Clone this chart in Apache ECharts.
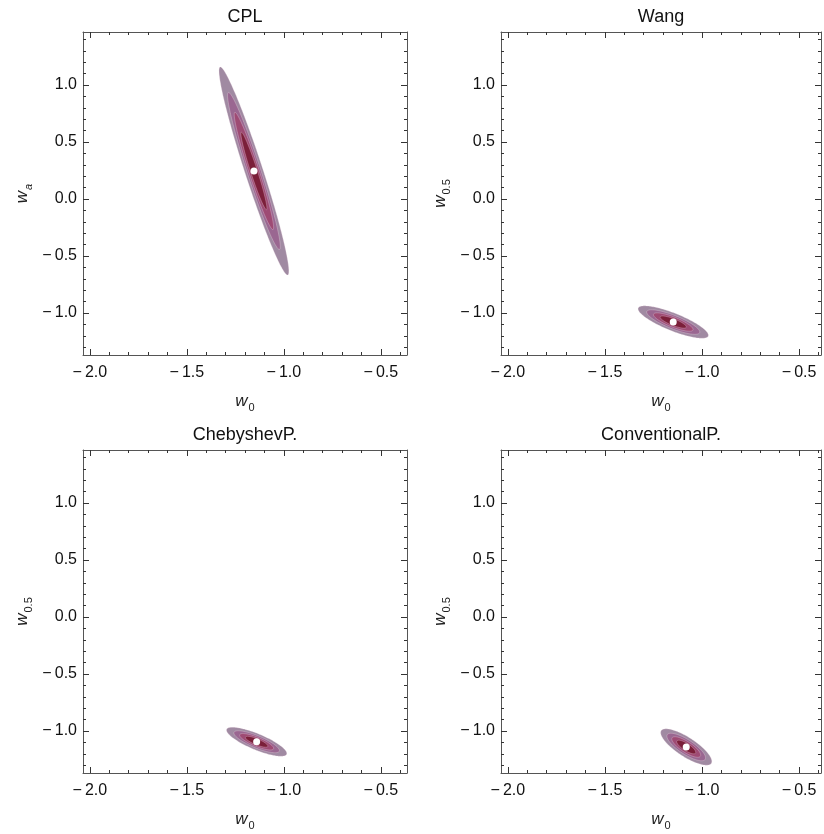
<!DOCTYPE html>
<html><head><meta charset="utf-8">
<script src="https://cdn.jsdelivr.net/npm/echarts@6/dist/echarts.min.js"></script>
<style>html,body{margin:0;padding:0;background:#fff}#c{width:824px;height:834px}</style>
</head><body><div id="c"></div>
<script>
// ---- data ----
const panelTitles = ['CPL', 'Wang', 'ChebyshevP.', 'ConventionalP.'];
const ySubscripts = ['a', '0.5', '0.5', '0.5'];
const centerW0 = [-1.154, -1.148, -1.140, -1.081];
const centerY = [0.246, -1.079, -1.094, -1.140];
const sigmaW0 = [0.1004, 0.101, 0.0867, 0.0735];
const sigmaY = [0.5087, 0.0793, 0.0710, 0.0890];
const corr = [-0.962, -0.813, -0.804, -0.79];
const contourLevels = [0.2, 0.4, 0.6, 0.8];
const levelColors = ['#a08aa2', '#9a6791', '#9e4b74', '#7b1f3a'];
const xMajorTicks = [-2.0, -1.5, -1.0, -0.5];
const xMinorTicks = [-2.0, -1.9, -1.8, -1.7, -1.6, -1.5, -1.4, -1.3, -1.2, -1.1, -1.0, -0.9, -0.8, -0.7, -0.6, -0.5, -0.4];
const yMajorTicks = [-1.0, -0.5, 0.0, 0.5, 1.0];
const yMinorTicks = [-1.3, -1.2, -1.1, -1.0, -0.9, -0.8, -0.7, -0.6, -0.5, -0.4, -0.3, -0.2, -0.1, 0.0, 0.1, 0.2, 0.3, 0.4, 0.5, 0.6, 0.7, 0.8, 0.9, 1.0, 1.1, 1.2, 1.3, 1.4];
const xMin = -2.035;
const xMaxByPanel = [-0.365, -0.387, -0.365, -0.387];
const yRange = [-1.368, 1.465];

// ---- layout ----
const FONT = 'Liberation Sans, Arial, Helvetica, sans-serif';
const panels = [
  {left: 83, top: 32, width: 324, height: 323},
  {left: 501, top: 32, width: 320, height: 323},
  {left: 83, top: 450, width: 324, height: 323},
  {left: 501, top: 450, width: 320, height: 323}
];
const frameColor = '#555';
const fmt = v => {
  const s = Math.abs(v).toFixed(1);
  return v < -1e-9 ? '\u2212\u2009' + s : s;
};
const nameRich = {
  i: {fontStyle: 'italic', fontSize: 17, fontFamily: FONT, color: '#222', lineHeight: 20, verticalAlign: 'bottom'},
  s: {fontSize: 11, fontFamily: FONT, color: '#222', lineHeight: 11, verticalAlign: 'bottom', padding: [0, 0, -3, 1]},
  si: {fontSize: 11, fontStyle: 'italic', fontFamily: FONT, color: '#222', lineHeight: 11, verticalAlign: 'bottom', padding: [0, 0, -3, 1]}
};

const grid = [], xAxis = [], yAxis = [], series = [], graphic = [];
panels.forEach((p, i) => {
  grid.push({left: p.left, top: p.top, width: p.width, height: p.height, containLabel: false});
  const base = {type: 'value', gridIndex: i, min: xMin, max: xMaxByPanel[i], splitLine: {show: false}};
  const xb = xAxis.length;
  xAxis.push(Object.assign({}, base, {
    position: 'bottom',
    axisLine: {show: true, onZero: false, lineStyle: {color: frameColor, width: 1}},
    axisTick: {show: true, inside: true, length: 6, customValues: xMajorTicks, lineStyle: {color: '#333'}},
    axisLabel: {show: true, customValues: xMajorTicks, formatter: fmt, margin: 10, fontSize: 16, fontFamily: FONT, color: '#111'},
    name: '{i|w}{s|0}', nameLocation: 'middle', nameGap: 35, nameTextStyle: {rich: nameRich}
  }));
  xAxis.push(Object.assign({}, base, {
    position: 'bottom', axisLine: {show: false, onZero: false},
    axisTick: {show: true, inside: true, length: 3, customValues: xMinorTicks, lineStyle: {color: '#333'}},
    axisLabel: {show: false}
  }));
  xAxis.push(Object.assign({}, base, {
    position: 'top',
    axisLine: {show: true, onZero: false, lineStyle: {color: frameColor, width: 1}},
    axisTick: {show: true, inside: true, length: 6, customValues: xMajorTicks, lineStyle: {color: '#333'}},
    axisLabel: {show: false}
  }));
  xAxis.push(Object.assign({}, base, {
    position: 'top', axisLine: {show: false, onZero: false},
    axisTick: {show: true, inside: true, length: 3, customValues: xMinorTicks, lineStyle: {color: '#333'}},
    axisLabel: {show: false}
  }));
  const ybase = {type: 'value', gridIndex: i, min: yRange[0], max: yRange[1], splitLine: {show: false}};
  const yb = yAxis.length;
  const sub = ySubscripts[i] === 'a' ? '{si|a}' : '{s|' + ySubscripts[i] + '}';
  yAxis.push(Object.assign({}, ybase, {
    position: 'left',
    axisLine: {show: true, onZero: false, lineStyle: {color: frameColor, width: 1}},
    axisTick: {show: true, inside: true, length: 6, customValues: yMajorTicks, lineStyle: {color: '#333'}},
    axisLabel: {show: true, customValues: yMajorTicks, formatter: fmt, margin: 6, fontSize: 16, fontFamily: FONT, color: '#111'},
    name: '{i|w}' + sub, nameLocation: 'middle', nameGap: 52, nameRotate: 90,
    nameTextStyle: {rich: nameRich}
  }));
  yAxis.push(Object.assign({}, ybase, {
    position: 'left', axisLine: {show: false, onZero: false},
    axisTick: {show: true, inside: true, length: 3, customValues: yMinorTicks, lineStyle: {color: '#333'}},
    axisLabel: {show: false}
  }));
  yAxis.push(Object.assign({}, ybase, {
    position: 'right',
    axisLine: {show: true, onZero: false, lineStyle: {color: frameColor, width: 1}},
    axisTick: {show: true, inside: true, length: 6, customValues: yMajorTicks, lineStyle: {color: '#333'}},
    axisLabel: {show: false}
  }));
  yAxis.push(Object.assign({}, ybase, {
    position: 'right', axisLine: {show: false, onZero: false},
    axisTick: {show: true, inside: true, length: 3, customValues: yMinorTicks, lineStyle: {color: '#333'}},
    axisLabel: {show: false}
  }));

  series.push({
    type: 'custom', xAxisIndex: xb, yAxisIndex: yb, clip: true, silent: true,
    data: [[centerW0[i], centerY[i], sigmaW0[i], sigmaY[i], corr[i]]],
    renderItem: (params, api) => {
      const mx = api.value(0), my = api.value(1), sx = api.value(2), sy = api.value(3), r = api.value(4);
      const q = Math.sqrt(1 - r * r);
      const children = contourLevels.map((L, k) => {
        const rad = Math.sqrt(-2 * Math.log(L));
        const pts = [];
        for (let t = 0; t < 360; t += 2) {
          const a = t * Math.PI / 180;
          const x = mx + rad * sx * Math.cos(a);
          const y = my + rad * sy * (r * Math.cos(a) + q * Math.sin(a));
          pts.push(api.coord([x, y]));
        }
        return {type: 'polygon', shape: {points: pts},
          style: {fill: levelColors[k], stroke: 'rgba(255,235,245,0.35)', lineWidth: 0.8}};
      });
      return {type: 'group', children};
    }
  });
  series.push({
    type: 'scatter', xAxisIndex: xb, yAxisIndex: yb, silent: true,
    symbol: 'circle', symbolSize: 7,
    itemStyle: {color: '#ffffff', borderWidth: 0, opacity: 1},
    data: [[centerW0[i], centerY[i]]], z: 5
  });
  graphic.push({
    type: 'text', x: p.left + p.width / 2, y: p.top - 15,
    style: {text: panelTitles[i], textAlign: 'center', textVerticalAlign: 'middle',
      font: '18px ' + FONT, fill: '#111'}
  });
});

const chart = echarts.init(document.getElementById('c'), null, {renderer: 'canvas'});
chart.setOption({animation: false, backgroundColor: '#fff', grid, xAxis, yAxis, series, graphic});
</script>
</body></html>
